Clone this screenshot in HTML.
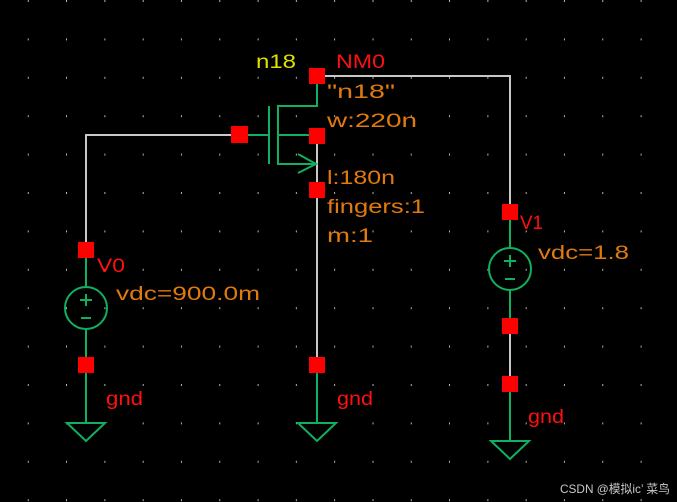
<!DOCTYPE html>
<html><head><style>
html,body{margin:0;padding:0;background:#000;width:677px;height:502px;overflow:hidden}
svg text{font-family:"Liberation Sans","Noto Sans CJK SC",sans-serif;font-size:19px}
</style></head><body>
<svg width="677" height="502" xmlns="http://www.w3.org/2000/svg">
<defs>
<pattern id="g" x="-9.6" y="0" width="38.3" height="38.4" patternUnits="userSpaceOnUse">
<rect x="37.5" y="0" width="2" height="2" fill="#e0e0e0"/>
</pattern>
</defs>
<rect width="677" height="502" fill="#000"/>
<rect width="677" height="502" fill="url(#g)"/>
<g stroke="#c8c8c8" stroke-width="2" fill="none">
<polyline points="240,135 86,135 86,250"/>
<polyline points="317,76 510,76 510,212"/>
<line x1="317" y1="136" x2="317" y2="365"/>
<line x1="510" y1="326" x2="510" y2="384"/>
</g>
<g stroke="#10b060" stroke-width="2" fill="none">
<line x1="247" y1="135" x2="269" y2="135"/>
<line x1="269" y1="106" x2="269" y2="164"/>
<polyline points="317,83 317,106 278,106 278,164 316,164"/>
<line x1="278" y1="135" x2="317" y2="135"/>
<polyline points="298,154 316,164 298,173"/>
<line x1="86" y1="250" x2="86" y2="287"/>
<circle cx="86" cy="308" r="21"/>
<line x1="86" y1="329" x2="86" y2="423"/>
<line x1="80" y1="300" x2="92" y2="300"/><line x1="86" y1="294" x2="86" y2="306"/>
<line x1="81" y1="318" x2="91" y2="318"/>
<polygon points="67,423 105,423 86,441"/>
<line x1="317" y1="365" x2="317" y2="423"/>
<polygon points="298,423 336,423 317,441"/>
<line x1="510" y1="212" x2="510" y2="248"/>
<circle cx="510" cy="269" r="21"/>
<line x1="510" y1="290" x2="510" y2="326"/>
<line x1="510" y1="384" x2="510" y2="441"/>
<line x1="504" y1="261" x2="516" y2="261"/><line x1="510" y1="255" x2="510" y2="267"/>
<line x1="505" y1="279" x2="515" y2="279"/>
<polygon points="491,441 529,441 510,459"/>
</g>
<g fill="#ff0000">
<rect x="231" y="126" width="17" height="17"/>
<rect x="309" y="68" width="16" height="16"/>
<rect x="309" y="128" width="16" height="16"/>
<rect x="309" y="182" width="16" height="16"/>
<rect x="78" y="242" width="16" height="16"/>
<rect x="78" y="357" width="16" height="16"/>
<rect x="309" y="357" width="16" height="16"/>
<rect x="502" y="204" width="16" height="16"/>
<rect x="502" y="318" width="16" height="16"/>
<rect x="502" y="376" width="16" height="16"/>
</g>
<text x="256" y="68" fill="#e0e000" textLength="40" lengthAdjust="spacingAndGlyphs">n18</text>
<text x="336" y="68" fill="#ff1010" textLength="49" lengthAdjust="spacingAndGlyphs">NM0</text>
<g fill="#e07a10">
<text x="327" y="98" textLength="68" lengthAdjust="spacingAndGlyphs">"n18"</text>
<text x="327" y="127" textLength="90" lengthAdjust="spacingAndGlyphs">w:220n</text>
<text x="327" y="184" textLength="68" lengthAdjust="spacingAndGlyphs">l:180n</text>
<text x="327" y="213" textLength="98" lengthAdjust="spacingAndGlyphs">fingers:1</text>
<text x="327" y="242" textLength="46" lengthAdjust="spacingAndGlyphs">m:1</text>
<text x="116" y="300" textLength="144" lengthAdjust="spacingAndGlyphs">vdc=900.0m</text>
<text x="538" y="259" textLength="91" lengthAdjust="spacingAndGlyphs">vdc=1.8</text>
</g>
<g fill="#ff1010">
<text x="97" y="272" textLength="28" lengthAdjust="spacingAndGlyphs">V0</text>
<text x="520" y="229" textLength="23" lengthAdjust="spacingAndGlyphs">V1</text>
<text x="106" y="405" textLength="37" lengthAdjust="spacingAndGlyphs">gnd</text>
<text x="337" y="405" textLength="36" lengthAdjust="spacingAndGlyphs">gnd</text>
<text x="528" y="423" textLength="36" lengthAdjust="spacingAndGlyphs">gnd</text>
</g>
<text x="560" y="493" fill="#c8c8c8" style="font-size:12px" textLength="110" lengthAdjust="spacingAndGlyphs">CSDN @模拟ic’ 菜鸟</text>
</svg>
</body></html>
